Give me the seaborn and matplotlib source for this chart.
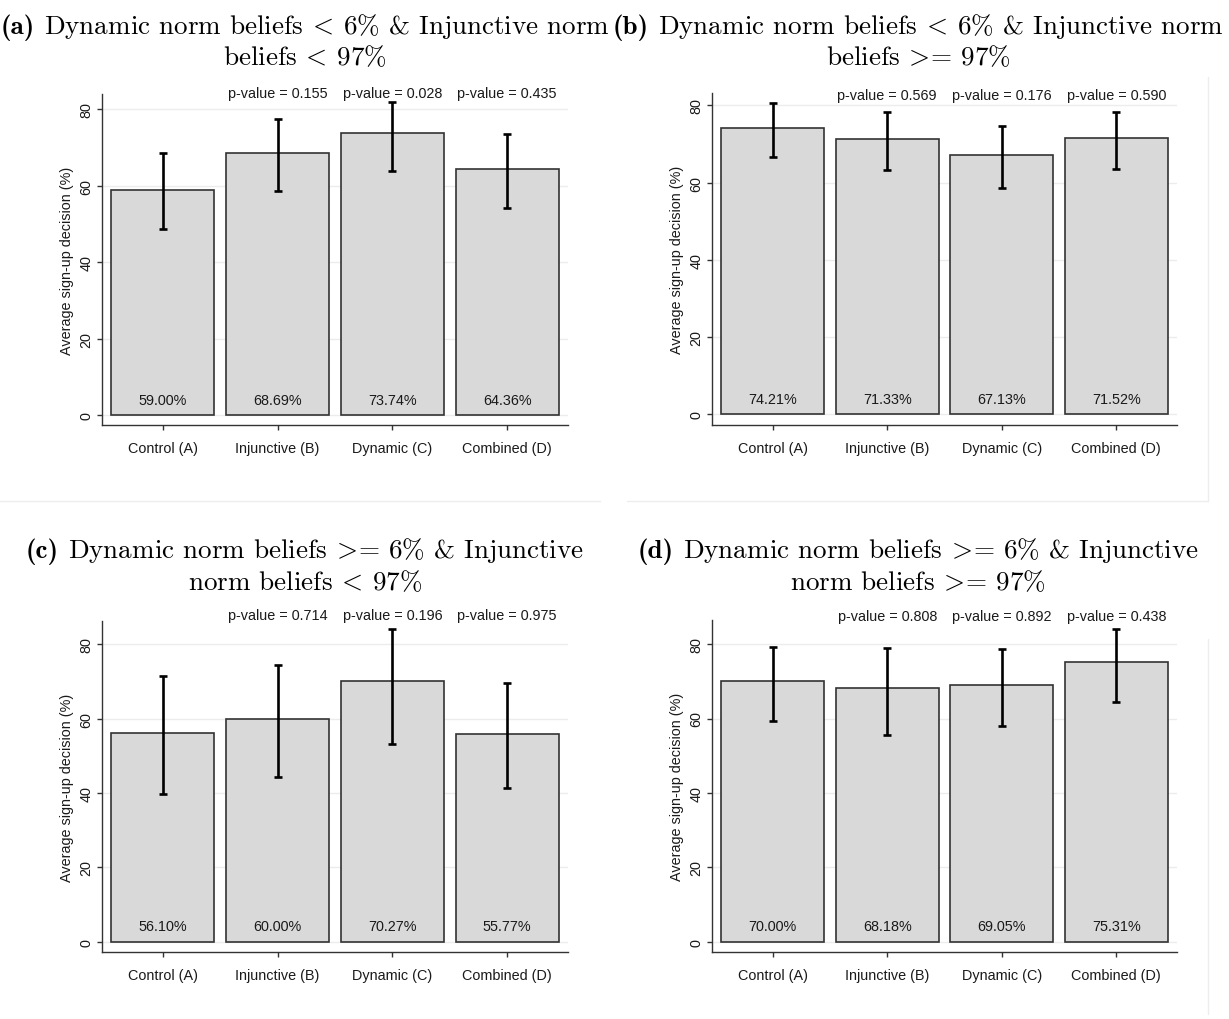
import numpy as np
import pandas as pd
import matplotlib
matplotlib.use("Agg")
import matplotlib.pyplot as plt
import matplotlib.transforms as mtransforms
from matplotlib.lines import Line2D
import seaborn as sns

# Treatment groups shown on every panel
groups = ["Control (A)", "Injunctive (B)", "Dynamic (C)", "Combined (D)"]

# (a) Dynamic < 6% & Injunctive < 97%
mean_a = [59.00, 68.69, 73.74, 64.36]
low_a = [48.7, 58.6, 63.8, 54.1]
high_a = [68.5, 77.5, 81.8, 73.5]
pval_a = ["0.155", "0.028", "0.435"]

# (b) Dynamic < 6% & Injunctive >= 97%
mean_b = [74.21, 71.33, 67.13, 71.52]
low_b = [66.7, 63.3, 58.7, 63.6]
high_b = [80.7, 78.4, 74.7, 78.4]
pval_b = ["0.569", "0.176", "0.590"]

# (c) Dynamic >= 6% & Injunctive < 97%
mean_c = [56.10, 60.00, 70.27, 55.77]
low_c = [39.7, 44.2, 53.1, 41.4]
high_c = [71.5, 74.4, 84.1, 69.5]
pval_c = ["0.714", "0.196", "0.975"]

# (d) Dynamic >= 6% & Injunctive >= 97%
mean_d = [70.00, 68.18, 69.05, 75.31]
low_d = [59.3, 55.5, 58.0, 64.4]
high_d = [79.2, 79.0, 78.8, 84.2]
pval_d = ["0.808", "0.892", "0.438"]

# relation signs typeset in math mode without the extra relation spacing
LT = r"$\!<\!$"
GE = r"$\!>\!$="

titles = [
    ("(a)", f"Dynamic norm beliefs {LT} 6% & Injunctive norm", f"beliefs {LT} 97%"),
    ("(b)", f"Dynamic norm beliefs {LT} 6% & Injunctive norm", f"beliefs {GE} 97%"),
    ("(c)", f"Dynamic norm beliefs {GE} 6% & Injunctive", f"norm beliefs {LT} 97%"),
    ("(d)", f"Dynamic norm beliefs {GE} 6% & Injunctive", f"norm beliefs {GE} 97%"),
]

panels = [
    (mean_a, low_a, high_a, pval_a),
    (mean_b, low_b, high_b, pval_b),
    (mean_c, low_c, high_c, pval_c),
    (mean_d, low_d, high_d, pval_d),
]

sns.set_style("ticks")
plt.rcParams["font.family"] = ["Liberation Sans", "DejaVu Sans"]
plt.rcParams["mathtext.fontset"] = "cm"

W, H = 1229, 1020
fig = plt.figure(figsize=(W / 100, H / 100), dpi=100)
renderer = fig.canvas.get_renderer()

# faint outlines of the graph regions
for xs, ys in [((0, 600), (502, 502)), ((627, 1208), (502, 502)),
               ((1208, 1208), (78, 502)), ((1208, 1208), (640, 1015))]:
    fig.add_artist(Line2D([x / W for x in xs], [1 - y / H for y in ys],
                          color="#ededed", lw=1.0))

# axes frames in pixels: left, top, right, bottom (x-axis line)
frames = [(102, 95, 568, 426), (712, 94, 1177, 426),
          (102, 622, 568, 953), (712, 621, 1177, 953)]
ylims = [(-2.6, 84.0), (-2.8, 83.2), (-2.8, 86.3), (-2.8, 86.5)]
title_x = [305, 918, 305, 918]
title_base = [(34, 65), (34, 65), (558, 590), (558, 590)]
pval_y = [94, 96, 616, 617]

TXT = "#1a1a1a"
FS = 10.4
TFS = 19.5

for k, ((mean, low, high, pv), frame, yl) in enumerate(zip(panels, frames, ylims)):
    l, t, r, b = frame
    ax = fig.add_axes([l / W, 1 - b / H, (r - l) / W, (b - t) / H])
    df = pd.DataFrame({"group": groups, "mean": mean, "low": low, "high": high})

    ax.set_axisbelow(True)
    ax.yaxis.grid(True, color="#ececec", lw=1.0)
    sns.barplot(data=df, x="group", y="mean", ax=ax, color="#d9d9d9",
                saturation=1, edgecolor="#333333", linewidth=1.2,
                width=0.9, errorbar=None)
    pos = np.arange(len(groups))
    m = df["mean"].to_numpy()
    ax.errorbar(pos, m, yerr=[m - df["low"].to_numpy(), df["high"].to_numpy() - m],
                fmt="none", ecolor="black", elinewidth=1.9, capsize=2.6,
                capthick=1.9, zorder=5)

    ax.set_xlim(-0.53, 3.53)
    ax.set_ylim(*yl)
    ax.set_yticks([0, 20, 40, 60, 80])
    ax.set_yticklabels(["0", "20", "40", "60", "80"], rotation=90, va="center")
    ax.set_xlabel("")
    ax.set_ylabel("Average sign-up decision (%)", fontsize=FS, color=TXT, labelpad=4)
    ax.tick_params(axis="both", direction="out", length=3.5, width=1.0,
                   colors="#333333", labelcolor=TXT, labelsize=FS)
    ax.tick_params(axis="x", pad=8)
    ax.tick_params(axis="y", pad=2.5)
    for side in ["top", "right"]:
        ax.spines[side].set_visible(False)
    for side in ["left", "bottom"]:
        ax.spines[side].set_color("#333333")
        ax.spines[side].set_linewidth(1.0)

    # value labels near the base of each bar
    for i, v in enumerate(mean):
        ax.annotate(f"{v:.2f}%", xy=(i, 0), xytext=(0, 11), textcoords="offset points",
                    ha="center", va="center", fontsize=FS, color=TXT)

    # p-values of each treatment against the control
    trans = mtransforms.blended_transform_factory(ax.transData, fig.transFigure)
    for i, p in enumerate(pv, start=1):
        ax.text(i, 1 - pval_y[k] / H, f"p-value = {p}", transform=trans,
                ha="center", va="center", fontsize=FS, color=TXT)

    # two-line panel caption with a bold tag
    tag, line1, line2 = titles[k]
    y1, y2 = title_base[k]
    t_tag = fig.text(0, 1 - y1 / H, tag, family="cmb10", fontsize=TFS,
                     ha="left", va="baseline", color="black")
    t_rest = fig.text(0, 1 - y1 / H, line1, family="cmr10", fontsize=TFS,
                      ha="left", va="baseline", color="black")
    w_tag = t_tag.get_window_extent(renderer).width
    w_rest = t_rest.get_window_extent(renderer).width
    gap = 0.333 * TFS * 100 / 72
    x0 = title_x[k] - (w_tag + gap + w_rest) / 2
    t_tag.set_x(x0 / W)
    t_rest.set_x((x0 + w_tag + gap) / W)
    fig.text(title_x[k] / W, 1 - y2 / H, line2, family="cmr10", fontsize=TFS,
             ha="center", va="baseline", color="black")

fig.savefig("out.png", dpi=100, facecolor="white")
